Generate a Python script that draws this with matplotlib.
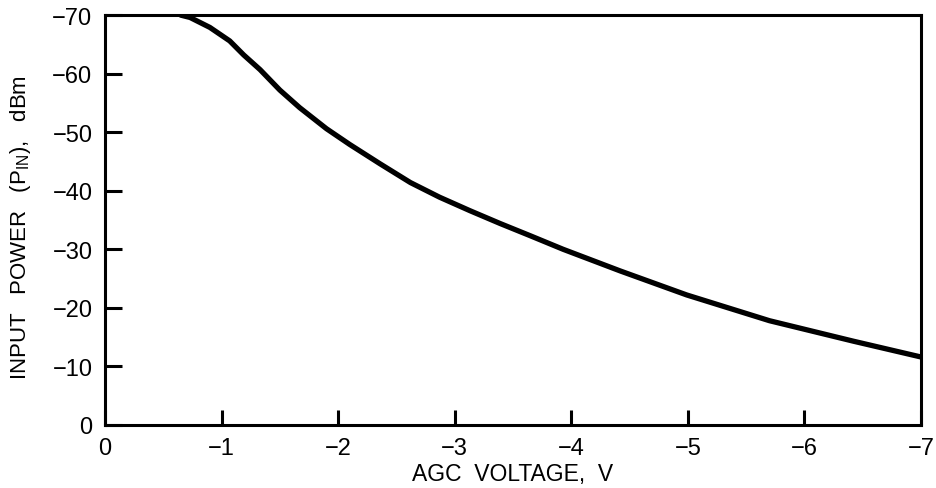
import matplotlib
matplotlib.use("Agg")
import matplotlib.pyplot as plt

# values
agc_voltage = [-0.65, -0.73, -0.90, -1.07, -1.19, -1.33, -1.50, -1.67, -1.90,
               -2.10, -2.36, -2.62, -2.87, -3.13, -3.39, -3.65, -3.93, -4.42,
               -4.99, -5.70, -6.42, -7.0]
input_power = [-70.0, -69.6, -67.9, -65.6, -63.2, -60.7, -57.2, -54.2, -50.6,
               -47.9, -44.6, -41.4, -38.9, -36.6, -34.4, -32.3, -30.0, -26.3,
               -22.2, -17.8, -14.3, -11.6]

x_ticks = [0, -1, -2, -3, -4, -5, -6, -7]
y_ticks = [0, -10, -20, -30, -40, -50, -60, -70]

plt.rcParams["font.family"] = ["Liberation Sans", "DejaVu Sans"]
plt.rcParams["mathtext.fontset"] = "custom"
plt.rcParams["mathtext.rm"] = "Liberation Sans"
plt.rcParams["mathtext.it"] = "Liberation Sans"


def main():
    fig = plt.figure(figsize=(9.37, 4.89), dpi=100)
    ax = fig.add_axes([0.112, 0.129, 0.871, 0.838])

    ax.plot(agc_voltage, input_power, color="black", lw=3.8,
            solid_capstyle="round", solid_joinstyle="round")

    ax.set_xlim(0, -7)
    ax.set_ylim(0, -70)
    ax.set_xticks(x_ticks)
    ax.set_yticks(y_ticks)
    ax.set_xticklabels(["0"] + [f"\u2212{abs(v)}" for v in x_ticks[1:]])
    ax.set_yticklabels(["0"] + [f"\u2212{abs(v)}" for v in y_ticks[1:]])

    for s in ax.spines.values():
        s.set_linewidth(2.2)

    ax.tick_params(axis="x", direction="in", length=11, width=2.2,
                   labelsize=17, pad=9)
    ax.tick_params(axis="y", direction="in", length=12, width=2.2,
                   labelsize=17, pad=9)

    ax.set_xlabel("AGC  VOLTAGE,  V", fontsize=16.5, labelpad=2)
    ax.set_ylabel(r"INPUT   POWER   (P$_{\mathrm{IN}}$),   dBm", fontsize=16)
    ax.yaxis.set_label_coords(-0.088, 0.483)

    fig.savefig("out.png", dpi=100)


if __name__ == "__main__":
    main()
